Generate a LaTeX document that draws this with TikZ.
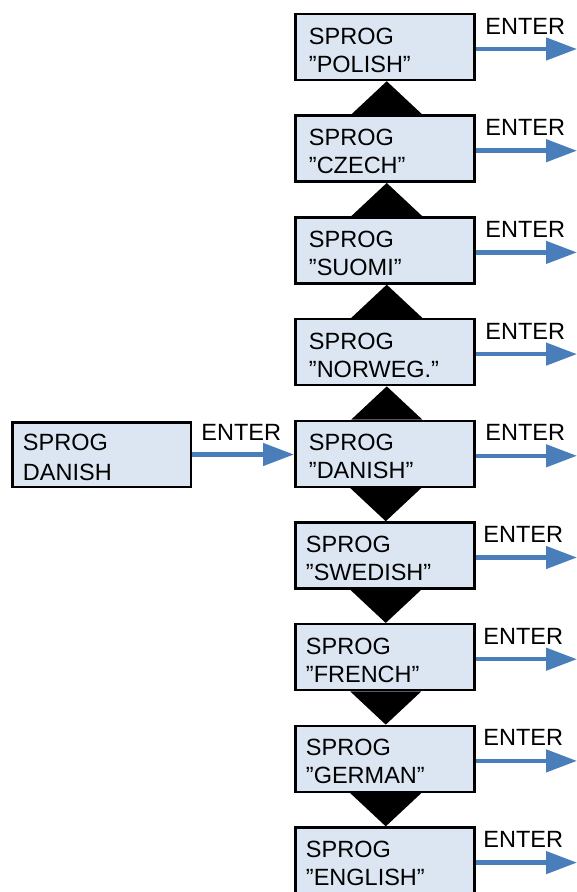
\documentclass[tikz,border=0pt]{standalone}
\usepackage{fontspec}
\setmainfont{Liberation Sans}
\usetikzlibrary{arrows.meta,calc}
\definecolor{boxfill}{HTML}{DCE6F2}
\definecolor{arrowblue}{HTML}{4A7EBB}
\begin{document}
\begin{tikzpicture}[x=1pt,y=-1pt,
  langbox/.style={draw=black,line width=2.5pt,fill=boxfill,minimum width=179pt,minimum height=66pt,inner sep=0pt},
  txt/.style={anchor=base west,inner sep=0pt,font=\fontsize{23.5}{28}\selectfont},
  enterarrow/.style={draw=arrowblue,line width=4.5pt,-{Triangle[length=31pt,width=22pt]}},
  navtri/.style={fill=black}]
\useasboundingbox (0,0) rectangle (577,892);
\foreach \i/\lang in {0/POLISH,1/CZECH,2/SUOMI,3/NORWEG.,4/DANISH,5/SWEDISH,6/FRENCH,7/GERMAN,8/ENGLISH}{
  \pgfmathsetmacro\cy{47+101.7*\i}
  \ifnum\i<5 \def\tx{14.75}\def\ex{9.75}\else\def\tx{11.75}\def\ex{7.75}\fi
  \node[langbox] (b\i) at (384.75,\cy) {};
  \node[txt] (s\i) at ($(b\i.west)+(\tx,-3)$) {SPROG};
  \node[txt] (l\i) at ($(b\i.west)+(\tx,25)$) {”\lang”};
  \node[txt] (e\i) at ($(b\i.east)+(\ex,-13)$) {ENTER};
  \coordinate (r\i) at (577,\cy+2);
  \draw[enterarrow] ($(b\i.east)+(0,2)$) -- (r\i);
}
% navigation triangles
\foreach \i/\j in {0/1,1/2,2/3,3/4}{
  \fill[navtri] ($(b\i.south)+(2,0)$) -- ($(b\j.north)+(-33.5,0)$) -- ($(b\j.north)+(37.5,0)$) -- cycle;
}
\foreach \i/\j in {4/5,5/6,6/7,7/8}{
  \fill[navtri] ($(b\i.south)+(-34.5,0)$) -- ($(b\i.south)+(36.5,0)$) -- ($(b\j.north)+(1,0)$) -- cycle;
}
% left start box
\node[langbox,minimum width=178.5pt,minimum height=64.5pt] (start) at (101.5,454.5) {};
\node[txt] (ss) at ($(start.west)+(11.75,-3.8)$) {SPROG};
\node[txt] (sd) at ($(start.west)+(11.75,25.5)$) {DANISH};
\node[txt] (se) at ($(start.east)+(9.25,-13.8)$) {ENTER};
\draw[enterarrow] (start.east) -- (start.east -| b4.west);
\end{tikzpicture}
\end{document}
